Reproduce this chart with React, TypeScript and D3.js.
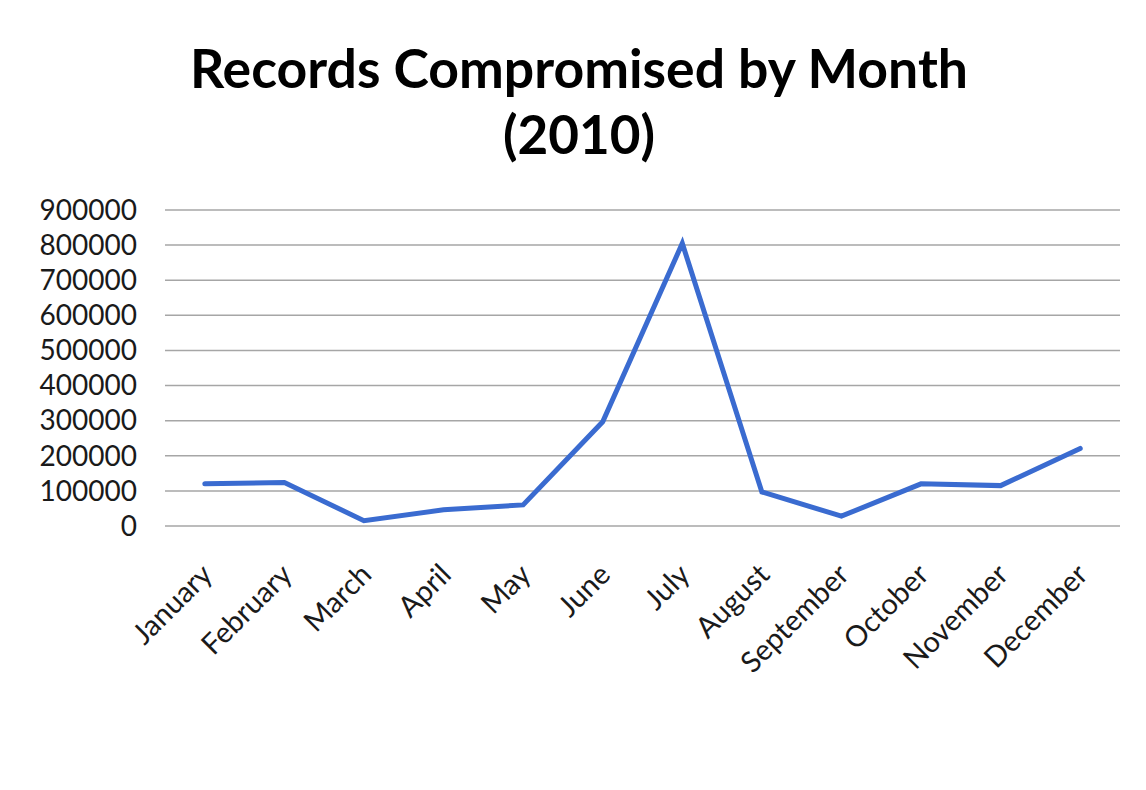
import React from "react";
import * as d3 from "d3";

const months = ["January","February","March","April","May","June","July","August","September","October","November","December"];
const records = [120000, 124000, 15000, 46000, 60000, 297000, 805000, 97000, 28000, 120000, 115000, 221000];
const yTicks = [0,100000,200000,300000,400000,500000,600000,700000,800000,900000];
const titleLines = ["Records Compromised by Month", "(2010)"];

export default function App() {
  const W = 1146, H = 790;
  const left = 165, right = 1120, top = 210, bottom = 526;
  const x = d3.scaleBand<string>().domain(months).range([left, right]);
  const y = d3.scaleLinear().domain([0, 900000]).range([bottom, top]);
  const line = d3.line<number>()
    .x((_, i) => (x(months[i]) as number) + x.bandwidth() / 2)
    .y(d => y(d));
  const font = "Lato, 'Open Sans', sans-serif";
  return (
    <svg width={W} height={H} style={{ position: "absolute", left: 0, top: 0, background: "#fff" }}>
      <rect width={W} height={H} fill="#fff" />
      <text x={579} y={88} textAnchor="middle" fontFamily={font} fontWeight="bold" fontSize={53} fill="#000" textLength={778} lengthAdjust="spacingAndGlyphs">{titleLines[0]}</text>
      <text x={579} y={154} textAnchor="middle" fontFamily={font} fontWeight="bold" fontSize={53} fill="#000">{titleLines[1]}</text>
      {yTicks.map(t => (
        <g key={t}>
          <line x1={left} x2={right} y1={y(t)} y2={y(t)} stroke="#a6a6a6" strokeWidth={1.5} />
          <text x={137} y={y(t)} dy="0.35em" textAnchor="end" fontFamily={font} fontSize={28} fill="#1a1a1a">{t}</text>
        </g>
      ))}
      <path d={line(records) || ""} fill="none" stroke="#3a6bd0" strokeWidth={5} strokeLinejoin="miter" strokeLinecap="round" />
      {months.map(m => {
        const cx = (x(m) as number) + x.bandwidth() / 2;
        return (
          <text key={m} transform={`translate(${cx - 5},${562}) rotate(-45)`} textAnchor="end" dy="0.7em" fontFamily={font} fontSize={29} fill="#1a1a1a">{m}</text>
        );
      })}
    </svg>
  );
}
